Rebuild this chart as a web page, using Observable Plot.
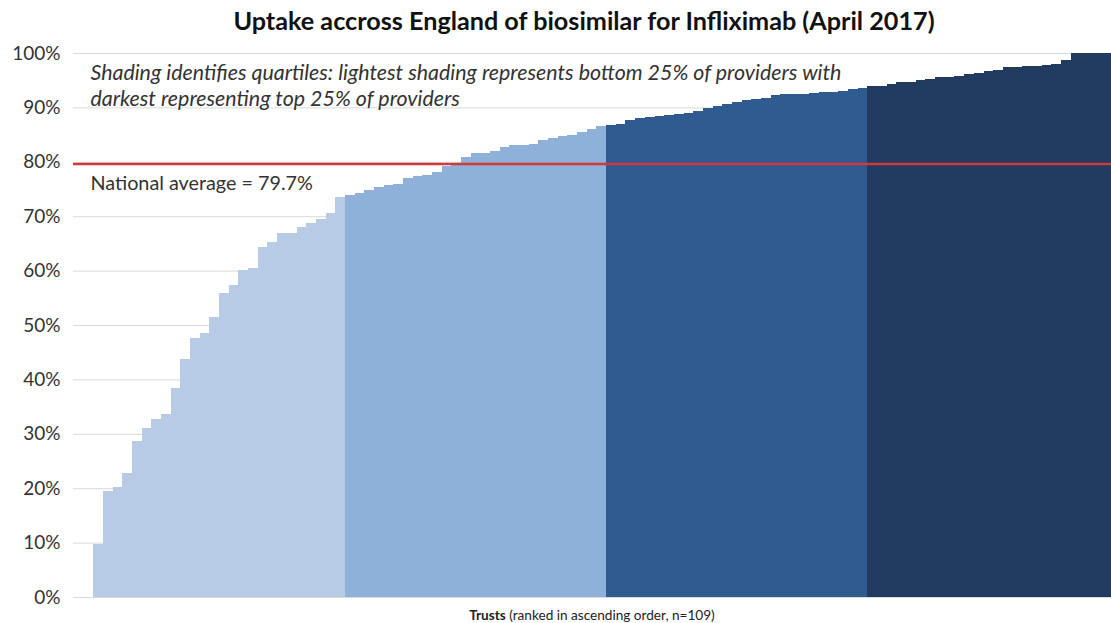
<!DOCTYPE html>
<html>
<head>
<meta charset="utf-8">
<script src="https://cdn.jsdelivr.net/npm/d3@7"></script>
<script src="https://cdn.jsdelivr.net/npm/@observablehq/plot@0.6"></script>
<style>
  html, body { margin: 0; padding: 0; background: #fff; width: 1111px; height: 623px; overflow: hidden; }
  #wrap { width: 1168px; }
  #title { width: 1168px; height: 41px; line-height: 40px; text-align: center; font-family: Lato, sans-serif; font-weight: bold; font-size: 25.2px; color: #111; white-space: nowrap; }
  #xlabel { width: 1184px; height: 16px; line-height: 16px; text-align: center; font-family: Lato, sans-serif; font-size: 13.6px; color: #222; white-space: nowrap; }
  svg { display: block; }
</style>
</head>
<body>
<div id="wrap">
  <div id="title">Uptake accross England of biosimilar for Infliximab (April 2017)</div>
  <div id="chart"></div>
  <div id="xlabel"><b>Trusts</b> (ranked in ascending order, n=109)</div>
</div>
<script>
// Uptake (%) per trust, ranked ascending (n = 109)
const uptake = [
  9.8, 19.5, 20.3, 22.8, 28.7, 31.1, 32.7, 33.6, 38.5, 43.8,
  47.7, 48.5, 51.5, 55.8, 57.4, 60.1, 60.4, 64.4, 65.2, 66.9,
  66.9, 68.1, 68.8, 69.4, 70.5, 73.6,
  73.9, 74.3, 74.8, 75.3, 75.7, 76.0, 77.0, 77.3, 77.6, 78.2,
  79.2, 79.4, 80.8, 81.6, 81.6, 81.9, 82.8, 83.0, 83.1, 83.3,
  84.0, 84.3, 84.7, 84.9, 85.5, 86.0, 86.5,
  86.8, 87.0, 87.7, 88.1, 88.2, 88.4, 88.6, 88.8, 89.0, 89.3,
  89.8, 90.3, 90.7, 91.0, 91.3, 91.5, 91.8, 92.3, 92.4, 92.5,
  92.5, 92.6, 92.8, 92.9, 93.1, 93.4, 93.6,
  93.9, 94.0, 94.3, 94.6, 94.7, 95.0, 95.3, 95.5, 95.6, 95.8,
  96.1, 96.3, 96.6, 96.9, 97.4, 97.5, 97.6, 97.7, 97.8, 97.9,
  98.7, 100, 100, 100, 100, 100, 100, 100, 100
];
const quartileNames = ["Bottom 25%", "Second 25%", "Third 25%", "Top 25%"];
const quartileSizes = [26, 27, 27, 29];
const quartileColors = ["#b7cbe5", "#8fb1d9", "#2f5b91", "#213b60"];
const nationalAverage = 79.7;
const yTicks = [0, 10, 20, 30, 40, 50, 60, 70, 80, 90, 100];
const noteText = "Shading identifies quartiles: lightest shading represents bottom 25% of providers with\ndarkest representing top 25% of providers";
const averageText = "National average = 79.7%";

// Build table
const quartileOf = [];
quartileSizes.forEach((n, q) => { for (let i = 0; i < n; i++) quartileOf.push(quartileNames[q]); });
const data = uptake.map((v, i) => ({rank: i + 1, value: v, quartile: quartileOf[i]}));

const chart = Plot.plot({
  width: 1168,
  height: 566,
  marginTop: 12,
  marginBottom: 10,
  marginLeft: 73,
  marginRight: 20,
  style: {fontFamily: "Lato, sans-serif", fontSize: "16px", color: "#333", background: "#fff"},
  x: {domain: [-2.1, 109], axis: null},
  y: {domain: [0, 100], axis: null},
  color: {domain: quartileNames, range: quartileColors},
  marks: [
    Plot.gridY(yTicks, {stroke: "#d9d9d9", strokeOpacity: 1, strokeWidth: 1}),
    Plot.rectY(data, {x1: d => d.rank - 1, x2: "rank", y1: 0, y2: "value", fill: "quartile", shapeRendering: "crispEdges"}),
    Plot.axisY(yTicks, {label: null, tickSize: 0, tickPadding: 13, tickFormat: d => d + "%", fontSize: 19, fill: "#333"}),
    Plot.ruleY([nationalAverage], {stroke: "#cf3a3c", strokeWidth: 2.5}),
    Plot.text([noteText], {x: -0.35, y: 94.3, text: d => d, textAnchor: "start", lineAnchor: "middle", lineHeight: 1.22, fontStyle: "italic", fontSize: 21.4, fill: "#333"}),
    Plot.text([averageText], {x: -0.35, y: 76.1, text: d => d, textAnchor: "start", lineAnchor: "middle", fontSize: 19.8, fill: "#333"})
  ]
});
document.getElementById("chart").appendChild(chart);
</script>
</body>
</html>
